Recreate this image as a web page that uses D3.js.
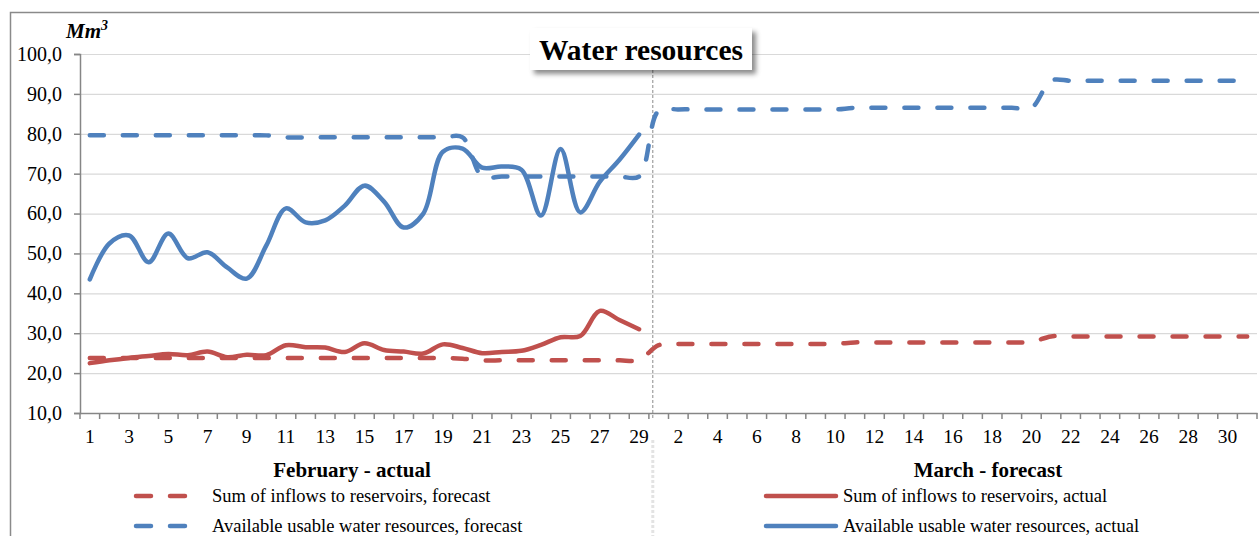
<!DOCTYPE html>
<html>
<head>
<meta charset="utf-8">
<script src="https://cdn.jsdelivr.net/npm/d3@7"></script>
<style>
  body { margin: 0; background: #fff; }
  svg { display: block; }
  svg text { font-family: "Liberation Serif", "Times New Roman", serif; }
</style>
</head>
<body>
<div id="chart"></div>
<script>
// days on the category axis
var febDays = ["1","2","3","4","5","6","7","8","9","10","11","12","13","14","15","16","17","18","19","20","21","22","23","24","25","26","27","28","29"]
var marDays = ["1","2","3","4","5","6","7","8","9","10","11","12","13","14","15","16","17","18","19","20","21","22","23","24","25","26","27","28","29","30","31"]

var yTicks = [10, 20, 30, 40, 50, 60, 70, 80, 90, 100]

// actual values, February only
var waterActual = [43.5, 52.5, 54.5, 47.8, 55.0, 48.8, 50.3, 46.5, 43.7, 52.0, 61.3, 57.8, 58.3, 62.0, 67.0, 63.0, 56.5, 60.0, 75.5, 76.3, 71.5, 71.8, 71.0, 59.5, 76.2, 60.3, 68.0, 73.5, 79.8]
var inflowActual = [22.5, 23.2, 23.8, 24.3, 24.8, 24.5, 25.4, 24.0, 24.6, 24.5, 27.0, 26.5, 26.4, 25.3, 27.5, 25.8, 25.4, 24.9, 27.2, 26.3, 25.0, 25.3, 25.6, 27.1, 29.0, 29.3, 35.6, 33.3, 31.0]

// forecast values, February + March
var waterForecast = [79.6, 79.6, 79.6, 79.6, 79.6, 79.6, 79.6, 79.6, 79.6, 79.6, 79.1, 79.1, 79.1, 79.1, 79.1, 79.1, 79.1, 79.1, 79.1, 79.1, 69.3, 69.3, 69.3, 69.3, 69.3, 69.3, 69.3, 69.3, 69.3,
  85.8, 86.1, 86.1, 86.1, 86.1, 86.1, 86.1, 86.1, 86.1, 86.1, 86.5, 86.5, 86.5, 86.5, 86.5, 86.5, 86.5, 86.5, 86.5, 86.5, 93.3, 93.3, 93.3, 93.3, 93.3, 93.3, 93.3, 93.3, 93.3, 93.3, 93.3]
var inflowForecast = [23.8, 23.8, 23.8, 23.8, 23.8, 23.8, 23.8, 23.8, 23.8, 23.8, 23.8, 23.8, 23.8, 23.8, 23.8, 23.8, 23.8, 23.8, 23.8, 23.6, 23.2, 23.2, 23.2, 23.2, 23.2, 23.2, 23.2, 23.2, 23.3,
  27.0, 27.3, 27.3, 27.3, 27.3, 27.3, 27.3, 27.3, 27.3, 27.3, 27.7, 27.7, 27.7, 27.7, 27.7, 27.7, 27.7, 27.7, 27.7, 27.8, 29.2, 29.2, 29.2, 29.2, 29.2, 29.2, 29.2, 29.2, 29.2, 29.2, 29.2]

var red = "#c0504d", blue = "#4f81bd"
var legendItems = [
  {label: "Sum of inflows to reservoirs, forecast", color: red, dashed: true, col: 0, row: 0},
  {label: "Available usable water resources, forecast", color: blue, dashed: true, col: 0, row: 1},
  {label: "Sum of inflows to reservoirs, actual", color: red, dashed: false, col: 1, row: 0},
  {label: "Available usable water resources, actual", color: blue, dashed: false, col: 1, row: 1}
]

var width = 1259, height = 536
var serif = "'Liberation Serif', 'Times New Roman', serif"
var categories = febDays.map(function(d){ return "Feb " + d }).concat(marDays.map(function(d){ return "Mar " + d }))
var dayLabel = febDays.concat(marDays)

var svg = d3.select("#chart").append("svg")
  .attr("width", width)
  .attr("height", height)

var defs = svg.append("defs")
defs.append("filter").attr("id", "shadow")
  .attr("x", "-10%").attr("y", "-20%").attr("width", "130%").attr("height", "160%")
  .append("feDropShadow")
  .attr("dx", 4).attr("dy", 4).attr("stdDeviation", 2.5)
  .attr("flood-color", "#000").attr("flood-opacity", 0.45)

// outer frame
svg.append("path")
  .attr("d", "M10.5,536 L10.5,12.5 L1259,12.5")
  .attr("fill", "none")
  .attr("stroke", "#8a8a8a")
  .attr("stroke-width", 1.5)

var x = d3.scaleBand().domain(categories).range([80, 1257]).padding(0)
var y = d3.scaleLinear().domain([10, 100]).range([413, 54])
var cx = function(i){ return x(categories[i]) + x.bandwidth() / 2 }

// gridlines
svg.append("g")
  .attr("transform", "translate(80,0)")
  .call(d3.axisLeft(y).tickValues(yTicks.slice(1)).tickSize(-(1257 - 80)).tickFormat(""))
  .call(function(g){
    g.select(".domain").remove()
    g.selectAll("line").attr("stroke", "#d9d9d9").attr("stroke-width", 1.2)
  })

// y axis
svg.append("g")
  .attr("transform", "translate(80,0)")
  .call(d3.axisLeft(y).tickValues(yTicks).tickSize(6).tickPadding(12)
    .tickFormat(function(d){ return d3.format(".1f")(d).replace(".", ",") }))
  .call(function(g){
    g.attr("font-family", null)
    g.select(".domain").attr("stroke", "#868686").attr("stroke-width", 1.5)
    g.selectAll("line").attr("stroke", "#868686").attr("stroke-width", 1.5)
    g.selectAll("text").attr("font-size", 20).attr("fill", "#000").style("font-family", serif)
  })

svg.append("text")
  .attr("x", 66).attr("y", 38)
  .style("font-family", serif)
  .attr("font-size", 21).attr("font-weight", "bold").attr("font-style", "italic")
  .text("Mm")
  .append("tspan").attr("font-size", 14).attr("dy", -8).text("3")

// x axis
var xAxis = svg.append("g").attr("transform", "translate(0,413)")
xAxis.call(d3.axisBottom(x).tickSize(0).tickPadding(16)
  .tickFormat(function(d, i){ return i % 2 === 0 ? dayLabel[i] : "" }))
xAxis.attr("font-family", null)
xAxis.select(".domain").attr("stroke", "#868686").attr("stroke-width", 1.5)
xAxis.selectAll("text").attr("font-size", 19.5).attr("fill", "#000").style("font-family", serif)
xAxis.selectAll(".boundary")
  .data(categories.concat(["end"]))
  .enter().append("line")
  .attr("class", "boundary")
  .attr("x1", function(d){ return d === "end" ? x.range()[1] : x(d) })
  .attr("x2", function(d){ return d === "end" ? x.range()[1] : x(d) })
  .attr("y1", 0).attr("y2", 6)
  .attr("stroke", "#868686").attr("stroke-width", 1.5)

// month divider
var divX = x(categories[febDays.length]) + x.bandwidth() * 0.2
svg.append("line")
  .attr("x1", divX).attr("x2", divX).attr("y1", 70).attr("y2", 420)
  .attr("stroke", "#8a8a8a").attr("stroke-width", 1).attr("stroke-dasharray", "3,2")
svg.append("line")
  .attr("x1", divX).attr("x2", divX).attr("y1", 440).attr("y2", 536)
  .attr("stroke", "#e3e3e3").attr("stroke-width", 3).attr("stroke-dasharray", "3,2")

// series
var line = d3.line()
  .x(function(d, i){ return cx(i) })
  .y(function(d){ return y(d) })
  .curve(d3.curveCatmullRom.alpha(0.5))

var series = [
  {values: inflowForecast, color: red, dashed: true},
  {values: waterForecast, color: blue, dashed: true},
  {values: inflowActual, color: red, dashed: false},
  {values: waterActual, color: blue, dashed: false}
]

svg.selectAll(".series")
  .data(series)
  .enter().append("path")
  .attr("class", "series")
  .attr("d", function(d){ return line(d.values) })
  .attr("fill", "none")
  .attr("stroke", function(d){ return d.color })
  .attr("stroke-width", 4.5)
  .attr("stroke-linecap", "round")
  .attr("stroke-linejoin", "round")
  .attr("stroke-dasharray", function(d){ return d.dashed ? "14,19" : null })

// title box
var titleG = svg.append("g")
titleG.append("rect")
  .attr("x", 530).attr("y", 28).attr("width", 222).attr("height", 42)
  .attr("fill", "#fff")
  .attr("filter", "url(#shadow)")
titleG.append("text")
  .attr("x", 641).attr("y", 60)
  .attr("text-anchor", "middle")
  .style("font-family", serif)
  .attr("font-size", 29.5).attr("font-weight", "bold")
  .text("Water resources")

// month captions
svg.append("text")
  .attr("x", 352).attr("y", 477)
  .attr("text-anchor", "middle").attr("font-size", 21).attr("font-weight", "bold")
  .style("font-family", serif)
  .text("February - actual")
svg.append("text")
  .attr("x", 988).attr("y", 477)
  .attr("text-anchor", "middle").attr("font-size", 21).attr("font-weight", "bold")
  .style("font-family", serif)
  .text("March - forecast")

// legend
var legendCols = [{sx: 136, sw: 52, tx: 212}, {sx: 766, sw: 70, tx: 843}]
var legend = svg.selectAll(".legend")
  .data(legendItems)
  .enter().append("g")
  .attr("class", "legend")
  .attr("transform", function(d){ return "translate(0," + (496 + d.row * 30) + ")" })

legend.append("line")
  .attr("x1", function(d){ return legendCols[d.col].sx })
  .attr("x2", function(d){ return legendCols[d.col].sx + legendCols[d.col].sw })
  .attr("stroke", function(d){ return d.color })
  .attr("stroke-width", 4.5)
  .attr("stroke-linecap", "round")
  .attr("stroke-dasharray", function(d){ return d.dashed ? "15,19" : null })

legend.append("text")
  .attr("x", function(d){ return legendCols[d.col].tx })
  .attr("y", 6)
  .attr("font-size", 18.5)
  .style("font-family", serif)
  .text(function(d){ return d.label })
</script>
</body>
</html>
